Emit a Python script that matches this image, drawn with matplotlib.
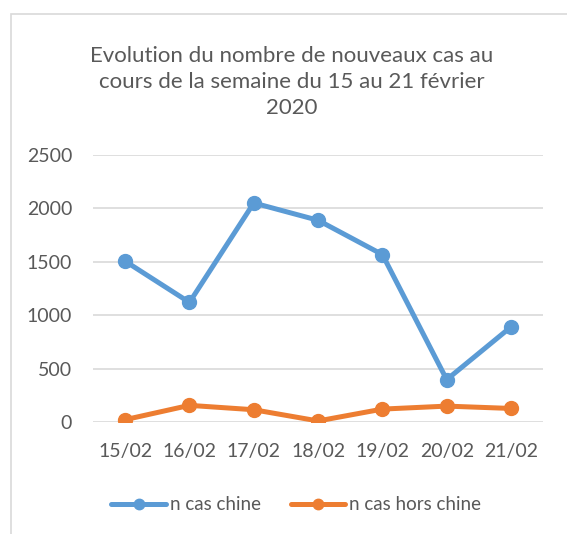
import matplotlib
matplotlib.use("Agg")
import matplotlib.pyplot as plt
from matplotlib.patches import Rectangle

dates = ["15/02", "16/02", "17/02", "18/02", "19/02", "20/02", "21/02"]
cas_chine = [1506, 1120, 2051, 1889, 1568, 397, 891]
cas_hors_chine = [22, 156, 115, 10, 121, 149, 127]

BLUE = "#5B9BD5"
ORANGE = "#ED7D31"
GRID = "#D9D9D9"
TEXT = "#595959"

plt.rcParams["font.family"] = ["Lato", "DejaVu Sans"]

fig = plt.figure(figsize=(5.67, 5.34), dpi=100)
ax = fig.add_axes([0.164, 0.2097, 0.794, 0.5])

x = range(len(dates))
ax.plot(x, cas_chine, color=BLUE, lw=3.6, marker="o", ms=10, label="n cas chine",
        solid_capstyle="round", solid_joinstyle="round")
ax.plot(x, cas_hors_chine, color=ORANGE, lw=3.6, marker="o", ms=10, label="n cas hors chine",
        solid_capstyle="round", solid_joinstyle="round")

ax.set_xlim(-0.5, len(dates) - 0.5)
ax.set_ylim(0, 2500)
ax.set_yticks(range(0, 2501, 500))
ax.set_xticks(list(x))
ax.set_xticklabels(dates)
ax.yaxis.grid(True, color=GRID, lw=1.2)
ax.set_axisbelow(True)
for s in ax.spines.values():
    s.set_visible(False)
ax.tick_params(length=0, labelsize=14, labelcolor=TEXT)
ax.tick_params(axis="y", pad=15)
ax.tick_params(axis="x", pad=15)

fig.text(292 / 567, 1 - 82 / 534,
         "Evolution du nombre de nouveaux cas au\ncours de la semaine du 15 au 21 février\n2020",
         ha="center", va="center", fontsize=16, color=TEXT, linespacing=1.4)

fig.legend(loc="center", bbox_to_anchor=(296 / 567, 1 - 505 / 534), ncol=2, frameon=False,
           fontsize=13.5, labelcolor=TEXT, handlelength=2.9, handletextpad=0.2,
           columnspacing=1.6, markerscale=0.75)

# cadre du graphique
fig.patches.append(Rectangle((11 / 567, -0.1), 1.2, 1 - 14 / 534 + 0.1,
                             transform=fig.transFigure, fill=False,
                             edgecolor=GRID, lw=1.2))

fig.savefig("out.png", dpi=100)
